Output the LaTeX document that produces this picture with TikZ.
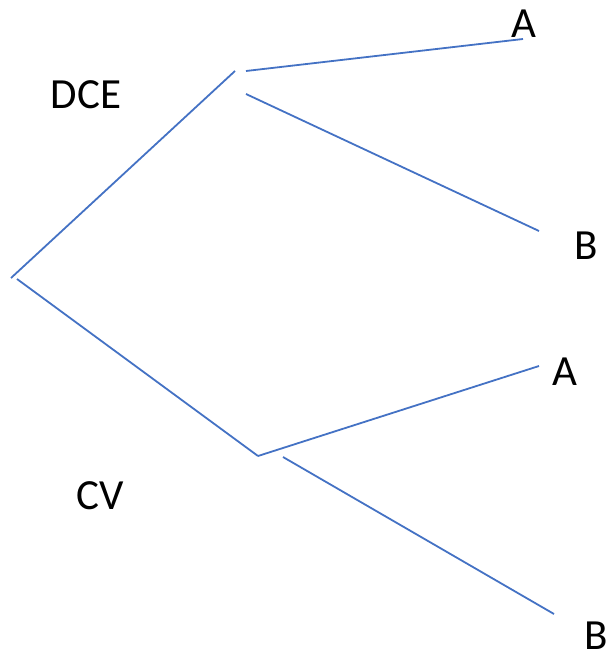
\documentclass[tikz,border=0pt]{standalone}
\usepackage{fontspec}
\setmainfont{Carlito}
\definecolor{branch}{HTML}{4472C4}
\tikzset{
  edge/.style={draw=branch, line width=1.8pt},
  lbl/.style={inner sep=0pt, anchor=center, font=\fontsize{43}{43}\selectfont}
}
\begin{document}
\begin{tikzpicture}[x=1pt, y=-1pt]
  \useasboundingbox (0,0) rectangle (609,655);
  % branch end points
  \coordinate (root1) at (11,278);
  \coordinate (root2) at (17,279);
  \coordinate (up) at (235,71);
  \coordinate (upA) at (246,71);
  \coordinate (upB) at (246,94);
  \coordinate (lo) at (258,456);
  \coordinate (loB) at (283,457);
  \coordinate (endA1) at (523,39);
  \coordinate (endB1) at (539,231);
  \coordinate (endA2) at (539,366);
  \coordinate (endB2) at (554,614);
  % labels
  \node[lbl] (dce) at (86,95) {DCE};
  \node[lbl] (cv) at (100,496) {CV};
  \node[lbl] (a1) at (524,24) {A};
  \node[lbl] (b1) at (586,246) {B};
  \node[lbl] (a2) at (565,372) {A};
  \node[lbl] (b2) at (596,636) {B};
  % tree branches
  \draw[edge] (root1) -- (up);
  \draw[edge] (root2) -- (lo);
  \draw[edge] (upA) -- (endA1);
  \draw[edge] (upB) -- (endB1);
  \draw[edge] (lo) -- (endA2);
  \draw[edge] (loB) -- (endB2);
\end{tikzpicture}
\end{document}
